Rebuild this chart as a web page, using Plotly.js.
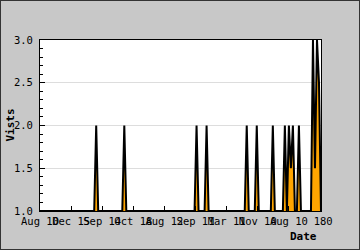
<!DOCTYPE html>
<html>
<head>
<meta charset="utf-8">
<script src="https://cdn.plot.ly/plotly-3.0.1.min.js"></script>
<style>
  html, body { margin: 0; padding: 0; background: #c8c8c8; }
  #frame { width: 360px; height: 250px; box-sizing: border-box; border: 1px solid #333; overflow: hidden; }
  #chart { width: 358px; height: 248px; }
</style>
</head>
<body>
<div id="frame"><div id="chart"></div></div>
<script>
// Number of sampled points along the date axis
const dayCount = 141;
// Days that had more than one visit, and their visit counts (all other days: 1 visit)
const spikeDays   = [28, 42, 78, 83, 103, 108, 116, 122, 124, 125, 126, 129, 136, 137, 138, 139];
const spikeVisits = [2,  2,  2,  2,  2,   2,   2,   2,   2,   1.5, 2,   2,   3,   1.5, 3,   2.5];
const baseVisits = 1;
// Date tick labels (one every 15.5 samples)
const tickLabels = ["Aug 10", "Dec 15", "Sep 14", "Oct 18", "Aug 12", "Sep 11", "Mar 11", "Nov 10", "Aug 10", "\u00a0180"];
const tickStep = 15.5;

const days = [];
const visits = [];
for (let d = 0; d < dayCount; d++) {
  days.push(d);
  const k = spikeDays.indexOf(d);
  visits.push(k >= 0 ? spikeVisits[k] : baseVisits);
}

const mono = "DejaVu Sans Mono, monospace";

const trace = {
  x: days,
  y: visits,
  type: "scatter",
  mode: "lines",
  fill: "tozeroy",
  fillcolor: "#ffa500",
  line: { color: "#000000", width: 2 },
  hoverinfo: "skip"
};

const layout = {
  width: 358,
  height: 248,
  margin: { l: 39, r: 38, t: 39, b: 38 },
  paper_bgcolor: "#c8c8c8",
  plot_bgcolor: "#ffffff",
  showlegend: false,
  xaxis: {
    range: [0, dayCount - 1],
    tickmode: "array",
    tickvals: tickLabels.map((_, i) => i * tickStep),
    ticktext: tickLabels,
    tickangle: 0,
    ticks: "inside",
    ticklen: 5,
    tickcolor: "#000",
    showgrid: false,
    zeroline: false,
    showline: true,
    linecolor: "#000",
    linewidth: 1,
    mirror: true,
    tickfont: { family: mono, size: 10.5, color: "#000" },
    fixedrange: true
  },
  yaxis: {
    range: [1, 3],
    tickmode: "linear",
    tick0: 1,
    dtick: 0.5,
    tickformat: ".1f",
    ticks: "inside",
    ticklen: 5,
    tickcolor: "#000",
    minor: { dtick: 0.1, ticks: "inside", ticklen: 3, tickcolor: "#000", showgrid: false },
    showgrid: true,
    gridcolor: "#dddddd",
    gridwidth: 1,
    zeroline: false,
    showline: true,
    linecolor: "#000",
    linewidth: 1,
    mirror: true,
    ticklabelstandoff: 4,
    tickfont: { family: mono, size: 10.5, color: "#000" },
    fixedrange: true
  },
  annotations: [
    {
      text: "<b>Vists</b>",
      xref: "paper", yref: "paper",
      x: 0, y: 0.5,
      xanchor: "center", yanchor: "middle",
      xshift: -30,
      textangle: -90,
      showarrow: false,
      font: { family: mono, size: 11, color: "#000" }
    },
    {
      text: "<b>Date</b>",
      xref: "paper", yref: "paper",
      x: 1, y: 0,
      xanchor: "right", yanchor: "middle",
      yshift: -25,
      xshift: -2,
      showarrow: false,
      font: { family: mono, size: 11, color: "#000" }
    }
  ]
};

Plotly.newPlot("chart", [trace], layout, { staticPlot: true, displayModeBar: false });
</script>
</body>
</html>
